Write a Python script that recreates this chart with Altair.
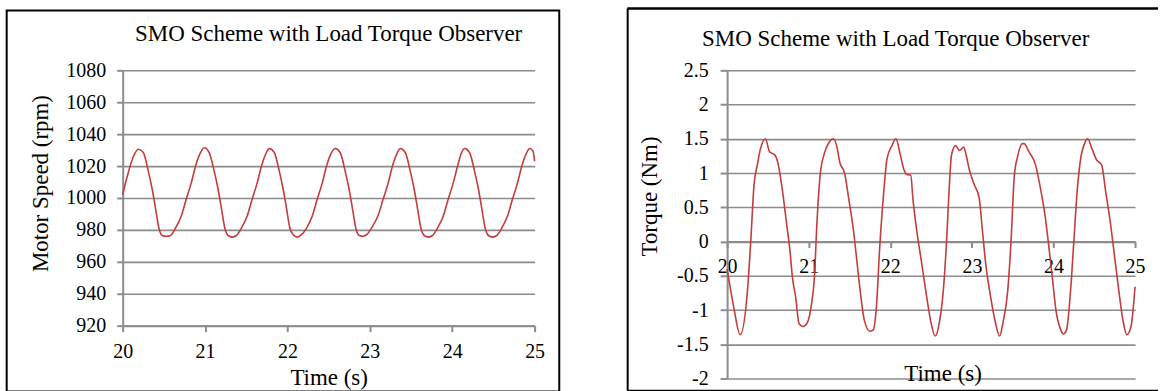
import altair as alt
import pandas as pd

# ---------------- data ----------------
title_text = "SMO Scheme with Load Torque Observer"
x_ticks = [20, 21, 22, 23, 24, 25]
speed_ticks = [920, 940, 960, 980, 1000, 1020, 1040, 1060, 1080]
torque_ticks = [-2, -1.5, -1, -0.5, 0, 0.5, 1, 1.5, 2, 2.5]

speed_t = [20.00, 20.05, 20.13, 20.19, 20.25, 20.31, 20.36, 20.40, 20.44, 20.48,
           20.53, 20.58, 20.64, 20.71, 20.77, 20.83, 20.89, 20.94, 20.99, 21.05,
           21.11, 21.16, 21.20, 21.24, 21.28, 21.33, 21.38, 21.44, 21.51, 21.57,
           21.63, 21.69, 21.74, 21.78, 21.84, 21.90, 21.95, 21.99, 22.03, 22.07,
           22.12, 22.17, 22.23, 22.30, 22.36, 22.42, 22.48, 22.53, 22.58, 22.64,
           22.70, 22.75, 22.79, 22.83, 22.87, 22.92, 22.97, 23.03, 23.10, 23.16,
           23.22, 23.28, 23.33, 23.37, 23.43, 23.49, 23.54, 23.58, 23.62, 23.66,
           23.71, 23.76, 23.82, 23.89, 23.95, 24.01, 24.07, 24.11, 24.15, 24.21,
           24.27, 24.32, 24.36, 24.40, 24.44, 24.49, 24.54, 24.60, 24.67, 24.73,
           24.79, 24.85, 24.90, 24.94, 24.98, 25.00]
speed_v = [1002, 1012.5, 1026, 1030.5, 1028.5, 1017, 1005, 993, 981, 976.5,
           976, 976.5, 981, 988.5, 999, 1009, 1021, 1028, 1031.5, 1028.5,
           1017, 1005, 993, 981, 976.5, 975.5, 976.5, 981, 988.5, 999,
           1009, 1021, 1028, 1031, 1028.5, 1017, 1005, 993, 981, 977,
           975.5, 977, 981, 988.5, 999, 1009, 1021, 1028, 1031, 1028.5,
           1017, 1005, 993, 981, 976.5, 976, 977.5, 982, 989, 999,
           1009, 1021, 1028, 1031, 1028.5, 1017, 1005, 993, 981, 976.5,
           975.5, 976.5, 981, 988.5, 999, 1009, 1021, 1028, 1031, 1028.5,
           1017, 1005, 993, 981, 976.5, 975.5, 976.5, 981, 988.5, 999,
           1009, 1021, 1028, 1031, 1029.5, 1023]

torque_t = [20.00, 20.08, 20.16, 20.25, 20.29, 20.33, 20.37, 20.41, 20.47, 20.52,
            20.58, 20.62, 20.68, 20.73, 20.77, 20.80, 20.84, 20.88, 20.93, 20.98,
            21.03, 21.07, 21.10, 21.14, 21.19, 21.25, 21.30, 21.35, 21.38, 21.44,
            21.49, 21.55, 21.59, 21.63, 21.68, 21.75, 21.79, 21.83, 21.87, 21.92,
            21.96, 22.02, 22.07, 22.12, 22.17, 22.20, 22.25, 22.28, 22.33, 22.38,
            22.44, 22.50, 22.55, 22.60, 22.65, 22.69, 22.72, 22.75, 22.80, 22.85,
            22.90, 22.93, 22.97, 23.03, 23.09, 23.13, 23.17, 23.23, 23.29, 23.34,
            23.38, 23.44, 23.48, 23.52, 23.56, 23.62, 23.64, 23.70, 23.78, 23.84,
            23.90, 23.94, 23.99, 24.03, 24.09, 24.12, 24.16, 24.21, 24.25, 24.29,
            24.34, 24.38, 24.42, 24.47, 24.53, 24.59, 24.64, 24.70, 24.75, 24.80,
            24.85, 24.90, 24.95, 25.00]
torque_v = [-0.40, -0.95, -1.36, -0.71, 0.01, 0.83, 1.12, 1.36, 1.50, 1.31,
            1.27, 1.16, 0.73, 0.25, -0.13, -0.52, -0.81, -1.19, -1.24, -1.19,
            -0.95, -0.52, 0.25, 0.97, 1.28, 1.45, 1.50, 1.36, 1.16, 1.00,
            0.63, 0.15, -0.28, -0.71, -1.14, -1.31, -1.29, -0.95, -0.09, 0.73,
            1.21, 1.40, 1.50, 1.28, 1.04, 0.98, 0.97, 0.59, 0.11, -0.28,
            -0.76, -1.19, -1.38, -1.19, -0.71, 0.01, 0.73, 1.26, 1.40, 1.33,
            1.38, 1.26, 1.04, 0.83, 0.63, 0.15, -0.33, -0.81, -1.19, -1.38,
            -1.19, -0.71, 0.01, 0.96, 1.24, 1.43, 1.43, 1.31, 1.12, 0.78,
            0.35, -0.04, -0.57, -1.00, -1.29, -1.35, -1.29, -0.71, 0.01, 0.73,
            1.26, 1.43, 1.50, 1.36, 1.19, 1.12, 0.73, 0.25, -0.23, -0.71,
            -1.14, -1.36, -1.24, -0.66]

# ---------------- style ----------------
FONT = "Liberation Serif"
GRID = "#8c8c8c"
RED = "#c43c3c"
LW, LH = 413, 256
RW, RH = 409, 309

speed_df = pd.DataFrame({"t": speed_t, "v": speed_v})
torque_df = pd.DataFrame({"t": torque_t, "v": torque_v})
one = alt.Data(values=[{}])

common_axis = dict(labelFont=FONT, labelFontSize=20, labelColor="black",
                   titleFont=FONT, titleFontSize=23, titleFontWeight="normal",
                   titleColor="black", domainColor=GRID, domainWidth=2,
                   tickColor=GRID, tickWidth=2, labelOverlap=False,
                   labelExpr="'' + datum.value")

# ---------------- left panel ----------------
left_line = alt.Chart(speed_df).mark_line(
    color=RED, strokeWidth=1.6, interpolate="monotone"
).encode(
    x=alt.X("t:Q", scale=alt.Scale(domain=[20, 25], nice=False, zero=False),
            axis=alt.Axis(values=x_ticks, grid=False, tickSize=6, labelPadding=10,
                          labelFlush=False, title="Time (s)",
                          titleBaseline="alphabetic", titleX=LW / 2, titleY=59,
                          **common_axis)),
    y=alt.Y("v:Q", scale=alt.Scale(domain=[920, 1080], nice=False, zero=False),
            axis=alt.Axis(values=speed_ticks, grid=True, gridColor=GRID, gridWidth=1.6,
                          tickSize=6, labelPadding=11, title="Motor Speed (rpm)",
                          titleBaseline="alphabetic", titleAngle=270,
                          titleX=-75, titleY=113, **common_axis)),
)

left_frame = alt.Chart(one).mark_rect(filled=False, stroke="black", strokeWidth=2).encode(
    x=alt.value(-116.3), x2=alt.value(437.7), y=alt.value(-60), y2=alt.value(322)
)
left_title = alt.Chart(one).mark_text(
    text=title_text, font=FONT, fontSize=23, baseline="alphabetic", align="center", color="black"
).encode(x=alt.value(LW / 2), y=alt.value(-29))

left = alt.layer(left_frame, left_line, left_title).properties(width=LW, height=LH)

# ---------------- right panel ----------------
zero_offset = -(RH - RH * 2.5 / 4.5)

right_line = alt.Chart(torque_df).mark_line(
    color=RED, strokeWidth=1.6, interpolate="monotone"
).encode(
    x=alt.X("t:Q", scale=alt.Scale(domain=[20, 25], nice=False, zero=False),
            axis=alt.Axis(values=x_ticks, grid=False, tickSize=6, labelPadding=9,
                          labelFlush=False, offset=zero_offset, title="Time (s)",
                          titleBaseline="alphabetic", titleX=216, titleY=139,
                          **common_axis)),
    y=alt.Y("v:Q", scale=alt.Scale(domain=[-2, 2.5], nice=False, zero=False),
            axis=alt.Axis(values=torque_ticks, grid=True, gridColor=GRID, gridWidth=1.6,
                          tickSize=7, labelPadding=12,
                          title="Torque (Nm)", titleBaseline="alphabetic", titleAngle=270,
                          titleX=-71, titleY=126, **common_axis)),
)

r_top = alt.Chart(one).mark_rule(color="black", strokeWidth=2.5).encode(
    x=alt.value(-100), x2=alt.value(432), y=alt.value(-62))
r_left = alt.Chart(one).mark_rule(color="black", strokeWidth=2).encode(
    x=alt.value(-99.7), y=alt.value(-62), y2=alt.value(321))
r_bottom = alt.Chart(one).mark_rule(color="black", strokeWidth=1.5).encode(
    x=alt.value(-100), x2=alt.value(432), y=alt.value(321))
right_title = alt.Chart(one).mark_text(
    text=title_text, font=FONT, fontSize=23, baseline="alphabetic", align="center", color="black"
).encode(x=alt.value(169), y=alt.value(-24))

right = alt.layer(r_top, r_left, r_bottom, right_line, right_title).properties(width=RW, height=RH)

chart = alt.hconcat(left, right, spacing=65).properties(
    padding={"left": 5, "top": 6, "right": 0, "bottom": 0},
    background="white",
).configure_view(strokeWidth=0).configure_axis(labelFont=FONT, titleFont=FONT)

chart.save("out.html", embed_options={"renderer": "svg", "actions": False})
